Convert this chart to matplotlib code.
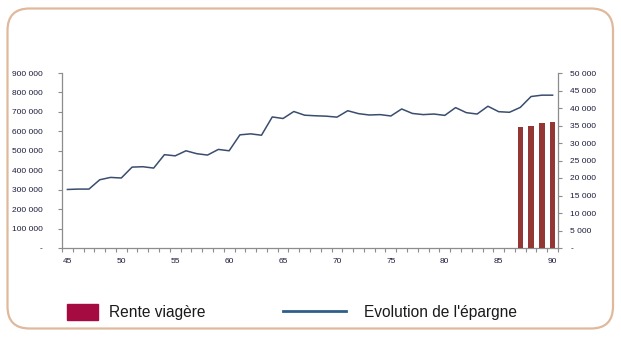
import matplotlib.pyplot as plt
from matplotlib.lines import Line2D
from matplotlib.patches import FancyBboxPatch, Rectangle
from matplotlib.ticker import FixedLocator, FuncFormatter

# Ages on the category axis
ages = list(range(45, 91))

# Savings balance (left axis)
epargne = [
    301000, 303000, 303000, 351000, 363000, 360000, 416000, 418000, 411000,
    480000, 474000, 500000, 485000, 478000, 507000, 500000, 582000, 587000,
    580000, 674000, 666000, 702000, 683000, 680000, 678000, 673000, 706000,
    691000, 684000, 686000, 679000, 715000, 692000, 686000, 689000, 682000,
    722000, 696000, 689000, 729000, 701000, 698000, 723000, 779000, 786000,
    786000,
]

# Annuity paid from 87 on (right axis)
rente_ages = [87, 88, 89, 90]
rente = [34700, 35000, 35600, 35900]

left_ticks = list(range(0, 900001, 100000))
right_ticks = list(range(0, 50001, 5000))
age_labels = list(range(45, 91, 5))

LINE_COLOR = "#3a4d6e"
BAR_COLOR = "#943634"
LEGEND_BAR = "#a50b40"
LEGEND_LINE = "#2e5e8a"
AXIS_GRAY = "#8c8c8c"
LABEL_COLOR = "#1c1c3c"
BORDER = "#e0b99c"

plt.rcParams["font.family"] = ["Liberation Sans", "DejaVu Sans"]


def spaced(v, pos=None):
    if v == 0:
        return "-"
    return f"{int(v):,}".replace(",", " ")


fig = plt.figure(figsize=(6.21, 3.4), dpi=100)
ax = fig.add_axes([62 / 621, 92 / 340, 496 / 621, 175 / 340])
ax2 = ax.twinx()

idx = list(range(len(ages)))
ax.plot(idx, epargne, color=LINE_COLOR, linewidth=1.1, zorder=3)
bar_idx = [ages.index(a) for a in rente_ages]
ax2.bar(bar_idx, rente, width=0.5, color=BAR_COLOR, zorder=2)

ax.set_xlim(-0.5, len(ages) - 0.5)
ax.set_ylim(0, 900000)
ax2.set_ylim(0, 50000)

ax.xaxis.set_major_locator(FixedLocator([ages.index(a) for a in age_labels]))
ax.set_xticklabels([str(a) for a in age_labels])
ax.xaxis.set_minor_locator(FixedLocator([i - 0.5 for i in range(len(ages) + 1)]))
ax.tick_params(axis="x", which="major", length=0, pad=7)
ax.tick_params(axis="x", which="minor", length=3, width=0.8, color=AXIS_GRAY)

ax.set_yticks(left_ticks)
ax.yaxis.set_major_formatter(FuncFormatter(spaced))
ax.tick_params(axis="y", length=3, width=0.8, color=AXIS_GRAY, pad=11)

ax2.set_yticks(right_ticks)
ax2.yaxis.set_major_formatter(FuncFormatter(spaced))
ax2.tick_params(axis="y", length=3, width=0.8, color=AXIS_GRAY, pad=6)

for a in (ax, ax2):
    a.tick_params(labelsize=6, labelcolor=LABEL_COLOR)
    a.spines["top"].set_visible(False)
    for s in ("left", "right", "bottom"):
        a.spines[s].set_color(AXIS_GRAY)
        a.spines[s].set_linewidth(0.9)
ax.spines["right"].set_visible(False)
ax2.spines["left"].set_visible(False)
ax2.spines["bottom"].set_visible(False)

# Legend row under the plot
legend_font = ["Liberation Sans Narrow", "Liberation Sans", "DejaVu Sans"]
fig.add_artist(Rectangle((67 / 621, 20 / 340), 31 / 621, 16 / 340,
                         transform=fig.transFigure, color=LEGEND_BAR))
fig.text(109 / 621, 28 / 340, "Rente viagère", fontsize=11.2,
         family=legend_font, color="#1a1a1a", va="center")
fig.add_artist(Line2D([283 / 621, 346 / 621], [29 / 340, 29 / 340],
                      transform=fig.transFigure, color=LEGEND_LINE,
                      linewidth=2))
fig.text(364 / 621, 28 / 340, "Evolution de l'épargne", fontsize=11.2,
         family=legend_font, color="#1a1a1a", va="center")

# Rounded frame around the whole chart
fig.add_artist(FancyBboxPatch((0.075, 0.115), 6.055, 3.2,
                              boxstyle="round,pad=0,rounding_size=0.22",
                              transform=fig.dpi_scale_trans,
                              facecolor="none", edgecolor=BORDER,
                              linewidth=1.6))

fig.savefig("out.png", dpi=100)
